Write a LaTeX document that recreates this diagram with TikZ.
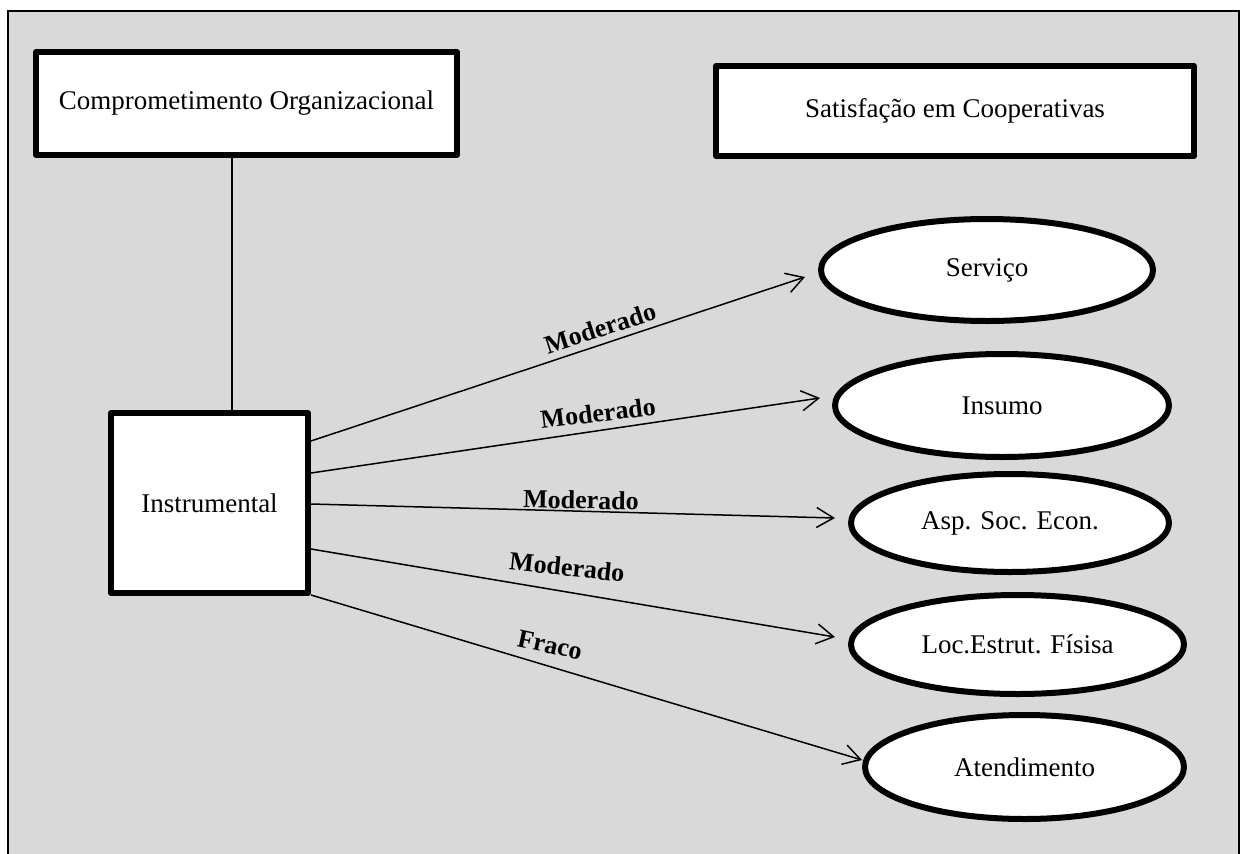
\documentclass[tikz,border=0pt]{standalone}
\usepackage{fontspec}
\setmainfont{Liberation Serif}
\usetikzlibrary{arrows.meta,calc,shapes.geometric}
\definecolor{panelgray}{RGB}{217,217,217}
\begin{document}
\begin{tikzpicture}[x=1pt,y=-1pt,
  panel/.style={fill=white,draw=black,line width=6pt,line join=round,
    inner sep=0pt,font=\fontsize{27}{31}\selectfont},
  concept/.style={panel,rectangle},
  facet/.style={panel,ellipse},
  link/.style={line width=1.5pt,
    -{Straight Barb[length=17pt,width=20pt,line width=1.5pt]}},
  grade/.style={font=\bfseries\fontsize{26}{30}\selectfont,inner sep=0pt}]
\clip (0,0) rectangle (1243,854);
\fill[white] (0,0) rectangle (1243,854);
% grey framed panel, open at the bottom
\draw[fill=panelgray,line width=1.8pt] (8,11) rectangle (1239,900);

% construct boxes
\node[concept,minimum width=421pt,minimum height=103pt] (comp) at (246.5,103.5)
  {Comprometimento Organizacional};
\node[concept,minimum width=478pt,minimum height=90pt] (sat) at (955,111)
  {Satisfação em Cooperativas};
\node[concept,minimum width=197pt,minimum height=180pt] (instr) at (209.5,503)
  {Instrumental};

% satisfaction facets
\node[facet,minimum width=332pt,minimum height=102pt] (serv) at (987,270) {Serviço};
\node[facet,minimum width=334pt,minimum height=103pt] (insu) at (1002,405.5) {Insumo};
\node[facet,minimum width=318pt,minimum height=98pt] (asp) at (1010,523) {Asp. Soc. Econ.};
\node[facet,minimum width=333pt,minimum height=99pt] (loc) at (1017.5,644.5) {Loc.Estrut. Físisa};
\node[facet,minimum width=319pt,minimum height=104pt] (aten) at (1024.5,767) {Atendimento};

% link between the two organisational boxes
\coordinate (vx) at (232,0);
\draw[line width=1.4pt] (comp.south -| vx) -- (instr.north -| vx);

% relationships with their strength
\draw[link] ($(instr.east)+(0,-62)$) -- ($(serv.west)+(-13,7)$);
\draw[link] ($(instr.east)+(0,-30)$) -- ($(insu.west)+(-12,-7.5)$);
\draw[link] ($(instr.east)+(0,1)$) -- ($(asp.west)+(-13,-5)$);
\draw[link] ($(instr.east)+(0,46)$) -- ($(loc.west)+(-13,-7.5)$);
\draw[link] ($(instr.east)+(0,92)$) -- ($(aten.west)+(0,-7)$);

\node[grade,rotate=18] (m1) at (600,328) {Moderado};
\node[grade,rotate=7] (m2) at (598,413) {Moderado};
\node[grade,rotate=-1] (m3) at (581,500) {Moderado};
\node[grade,rotate=-6] (m4) at (567,567) {Moderado};
\node[grade,rotate=-12] (f5) at (550,645) {Fraco};
\end{tikzpicture}
\end{document}
